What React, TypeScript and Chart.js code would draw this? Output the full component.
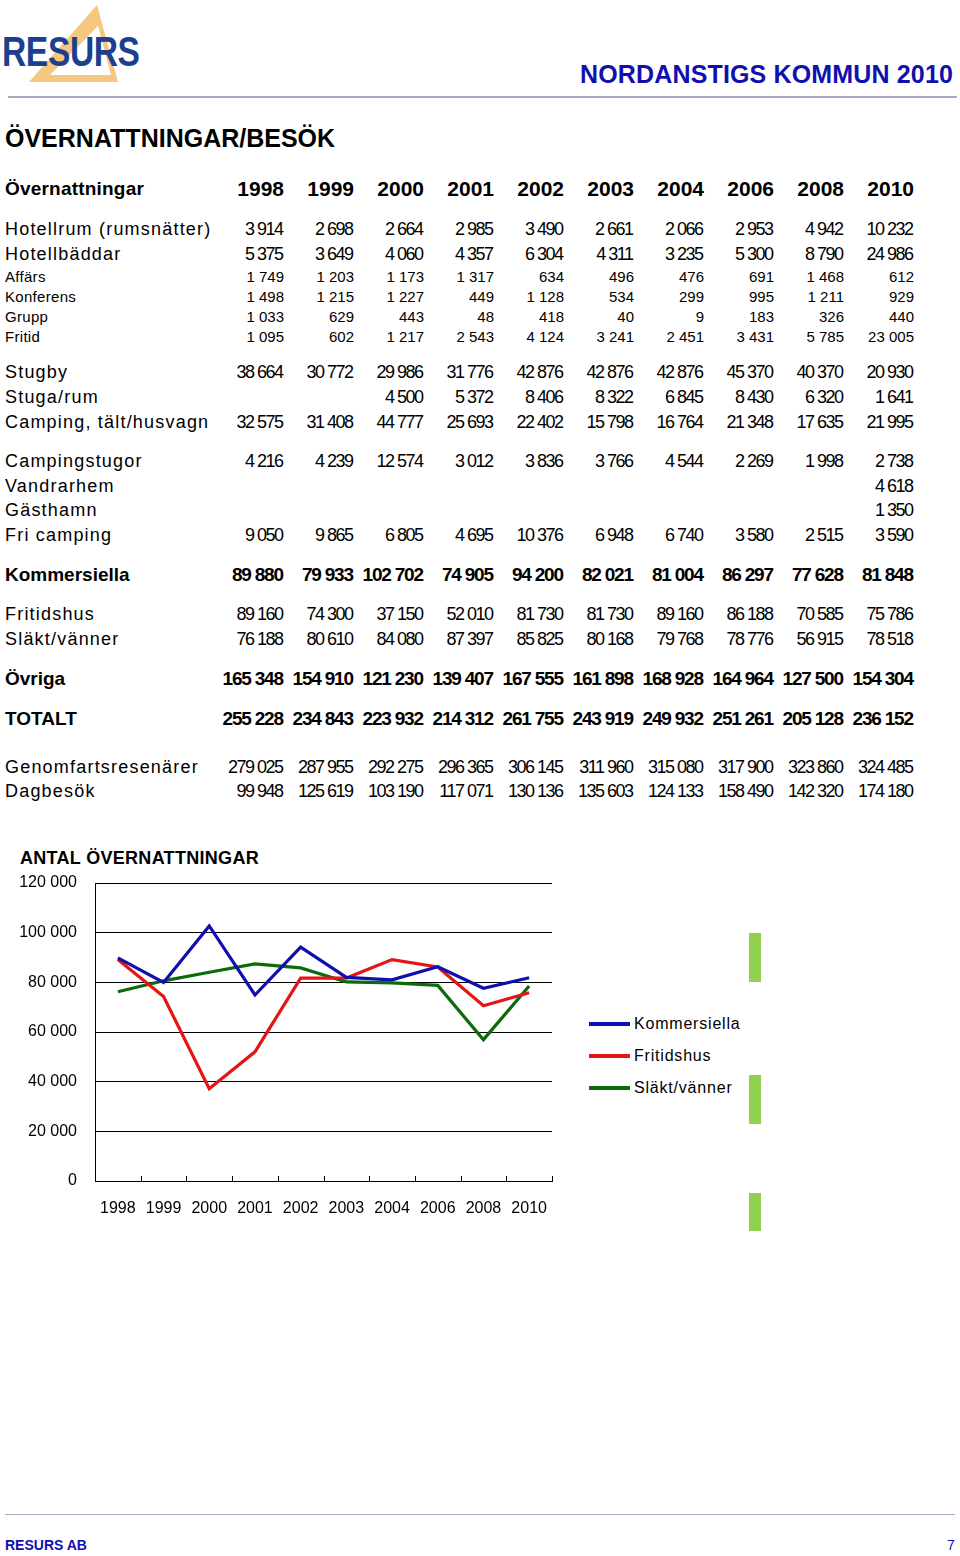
import React, { useEffect, useRef } from "react";
import { Chart, registerables } from "chart.js";

Chart.register(...registerables);

// ---------- DATA ----------
const years = ["1998", "1999", "2000", "2001", "2002", "2003", "2004", "2006", "2008", "2010"];

const hotellrum = [3914, 2698, 2664, 2985, 3490, 2661, 2066, 2953, 4942, 10232];
const hotellbaddar = [5375, 3649, 4060, 4357, 6304, 4311, 3235, 5300, 8790, 24986];
const affars = [1749, 1203, 1173, 1317, 634, 496, 476, 691, 1468, 612];
const konferens = [1498, 1215, 1227, 449, 1128, 534, 299, 995, 1211, 929];
const grupp = [1033, 629, 443, 48, 418, 40, 9, 183, 326, 440];
const fritid = [1095, 602, 1217, 2543, 4124, 3241, 2451, 3431, 5785, 23005];
const stugby = [38664, 30772, 29986, 31776, 42876, 42876, 42876, 45370, 40370, 20930];
const stugaRum = [null, null, 4500, 5372, 8406, 8322, 6845, 8430, 6320, 1641];
const campingTalt = [32575, 31408, 44777, 25693, 22402, 15798, 16764, 21348, 17635, 21995];
const campingstugor = [4216, 4239, 12574, 3012, 3836, 3766, 4544, 2269, 1998, 2738];
const vandrarhem = [null, null, null, null, null, null, null, null, null, 4618];
const gasthamn = [null, null, null, null, null, null, null, null, null, 1350];
const friCamping = [9050, 9865, 6805, 4695, 10376, 6948, 6740, 3580, 2515, 3590];
const kommersiella = [89880, 79933, 102702, 74905, 94200, 82021, 81004, 86297, 77628, 81848];
const fritidshus = [89160, 74300, 37150, 52010, 81730, 81730, 89160, 86188, 70585, 75786];
const slaktVanner = [76188, 80610, 84080, 87397, 85825, 80168, 79768, 78776, 56915, 78518];
const ovriga = [165348, 154910, 121230, 139407, 167555, 161898, 168928, 164964, 127500, 154304];
const totalt = [255228, 234843, 223932, 214312, 261755, 243919, 249932, 251261, 205128, 236152];
const genomfart = [279025, 287955, 292275, 296365, 306145, 311960, 315080, 317900, 323860, 324485];
const dagbesok = [99948, 125619, 103190, 117071, 130136, 135603, 124133, 158490, 142320, 174180];

const seriesLabels = ["Kommersiella", "Fritidshus", "Släkt/vänner"];
const yMin = 0;
const yMax = 120000;
const yStep = 20000;

// ---------- STYLE ----------
const FONT = "'Liberation Sans', Arial, Helvetica, sans-serif";
const BLUE = "#0f0fb0";
const RED = "#e41515";
const GREEN = "#0b6b0b";

type Kind = "header" | "big" | "small" | "bold";
const KIND_STYLE: Record<Kind, { label: any; num: any }> = {
  header: { label: { fontSize: 19, fontWeight: 700, letterSpacing: 0.2 }, num: { fontSize: 21, fontWeight: 700, letterSpacing: 0 } },
  big: { label: { fontSize: 18, fontWeight: 400, letterSpacing: 1.2 }, num: { fontSize: 18, fontWeight: 400, letterSpacing: -1.5 } },
  small: { label: { fontSize: 15, fontWeight: 400, letterSpacing: 0.3 }, num: { fontSize: 15, fontWeight: 400, letterSpacing: 0 } },
  bold: { label: { fontSize: 19, fontWeight: 700, letterSpacing: 0 }, num: { fontSize: 19, fontWeight: 700, letterSpacing: -1.2 } },
};

const tableRows: { label: string; values: (number | string | null)[]; y: number; kind: Kind }[] = [
  { label: "Övernattningar", values: years, y: 188, kind: "header" },
  { label: "Hotellrum (rumsnätter)", values: hotellrum, y: 229, kind: "big" },
  { label: "Hotellbäddar", values: hotellbaddar, y: 254, kind: "big" },
  { label: "Affärs", values: affars, y: 276, kind: "small" },
  { label: "Konferens", values: konferens, y: 296, kind: "small" },
  { label: "Grupp", values: grupp, y: 316, kind: "small" },
  { label: "Fritid", values: fritid, y: 336, kind: "small" },
  { label: "Stugby", values: stugby, y: 372, kind: "big" },
  { label: "Stuga/rum", values: stugaRum, y: 397, kind: "big" },
  { label: "Camping, tält/husvagn", values: campingTalt, y: 422, kind: "big" },
  { label: "Campingstugor", values: campingstugor, y: 461, kind: "big" },
  { label: "Vandrarhem", values: vandrarhem, y: 486, kind: "big" },
  { label: "Gästhamn", values: gasthamn, y: 510, kind: "big" },
  { label: "Fri camping", values: friCamping, y: 535, kind: "big" },
  { label: "Kommersiella", values: kommersiella, y: 574, kind: "bold" },
  { label: "Fritidshus", values: fritidshus, y: 614, kind: "big" },
  { label: "Släkt/vänner", values: slaktVanner, y: 639, kind: "big" },
  { label: "Övriga", values: ovriga, y: 678, kind: "bold" },
  { label: "TOTALT", values: totalt, y: 718, kind: "bold" },
  { label: "Genomfartsresenärer", values: genomfart, y: 767, kind: "big" },
  { label: "Dagbesök", values: dagbesok, y: 791, kind: "big" },
];

function fmt(v: number | string | null): string {
  if (v === null || v === undefined) return "";
  if (typeof v === "string") return v;
  return String(v).replace(/\B(?=(\d{3})+(?!\d))/g, " ");
}

const abs = (s: any): any => ({ position: "absolute", whiteSpace: "nowrap", fontFamily: FONT, color: "#000", ...s });

function TableRow({ row }: { row: (typeof tableRows)[number] }) {
  const st = KIND_STYLE[row.kind];
  return (
    <>
      <div style={abs({ left: 5, top: row.y - st.label.fontSize / 2, lineHeight: st.label.fontSize + "px", ...st.label })}>{row.label}</div>
      {row.values.map((v, i) => {
        const right = 284 + 70 * i;
        const ls = st.num.letterSpacing;
        return (
          <div
            key={i}
            style={abs({
              left: right - 100 + ls,
              width: 100,
              textAlign: "right",
              top: row.y - st.num.fontSize / 2,
              lineHeight: st.num.fontSize + "px",
              ...st.num,
            })}
          >
            {fmt(v)}
          </div>
        );
      })}
    </>
  );
}

const innerTicks = {
  id: "innerTicks",
  afterDraw(chart: any) {
    const x = chart.scales.x;
    const ctx = chart.ctx;
    const bottom = chart.chartArea.bottom;
    ctx.save();
    ctx.strokeStyle = "#000";
    ctx.lineWidth = 1;
    ctx.beginPath();
    for (let i = 0; i <= years.length; i++) {
      const px = Math.round(x.getPixelForValue(i - 0.5)) + 0.5;
      ctx.moveTo(px, bottom);
      ctx.lineTo(px, bottom - 5);
    }
    ctx.stroke();
    ctx.restore();
  },
};

function LineChart() {
  const ref = useRef<HTMLCanvasElement | null>(null);
  useEffect(() => {
    if (!ref.current) return;
    const chart = new Chart(ref.current, {
      type: "line",
      data: {
        labels: years,
        datasets: [
          { label: seriesLabels[0], data: kommersiella, borderColor: BLUE, backgroundColor: BLUE, borderWidth: 3.2, pointRadius: 0, tension: 0 },
          { label: seriesLabels[1], data: fritidshus, borderColor: RED, backgroundColor: RED, borderWidth: 3.2, pointRadius: 0, tension: 0 },
          { label: seriesLabels[2], data: slaktVanner, borderColor: GREEN, backgroundColor: GREEN, borderWidth: 3.2, pointRadius: 0, tension: 0 },
        ],
      },
      options: {
        animation: false,
        responsive: false,
        events: [],
        layout: { padding: { top: 13, right: 8, left: 0, bottom: 0 } },
        plugins: { legend: { display: false }, tooltip: { enabled: false }, title: { display: false } },
        scales: {
          x: {
            type: "category",
            offset: true,
            grid: { display: true, drawOnChartArea: false, drawTicks: true, tickLength: 15, tickColor: "rgba(0,0,0,0)", offset: true },
            border: { display: true, color: "#000", width: 1 },
            ticks: { color: "#000", font: { family: FONT, size: 16 }, padding: 3, maxRotation: 0, autoSkip: false },
            afterFit: (s: any) => {
              s.height = 49;
            },
          },
          y: {
            min: yMin,
            max: yMax,
            grid: { color: "#000", lineWidth: 1, drawTicks: true, tickLength: 15, tickColor: "rgba(0,0,0,0)" },
            border: { display: true, color: "#000", width: 1 },
            ticks: {
              stepSize: yStep,
              color: "#000",
              font: { family: FONT, size: 16 },
              padding: 3,
              callback: (v: any) => fmt(Number(v)),
            },
            afterFit: (s: any) => {
              s.width = 95;
            },
          },
        },
      },
      plugins: [innerTicks],
    } as any);
    return () => chart.destroy();
  }, []);
  return <canvas ref={ref} width={560} height={360} style={{ display: "block", width: 560, height: 360 }} />;
}

function Legend() {
  const colors = [BLUE, RED, GREEN];
  return (
    <>
      {seriesLabels.map((l, i) => (
        <React.Fragment key={l}>
          <div style={{ position: "absolute", left: 589, top: 1024 + 32 * i - 2, width: 41, height: 4, background: colors[i] }} />
          <div style={abs({ left: 634, top: 1024 + 32 * i - 8, lineHeight: "16px", fontSize: 16, letterSpacing: 0.8 })}>{l}</div>
        </React.Fragment>
      ))}
    </>
  );
}

export default function App() {
  return (
    <div style={{ position: "absolute", left: 0, top: 0, width: 960, height: 1556, background: "#fff", overflow: "hidden" }}>
      {/* Logo */}
      <svg width={140} height={90} style={{ position: "absolute", left: 0, top: 0 }}>
        <path d="M97 5 L118 82 L29 82 Z M98 26 L50 75 L111 75 Z" fill="#f6c87f" fillRule="evenodd" />
      </svg>
      <div
        style={abs({
          left: 2,
          top: 30,
          fontSize: 42,
          lineHeight: "44px",
          fontWeight: 700,
          color: "#1c3f8e",
          transform: "scaleX(0.8)",
          transformOrigin: "left center",
          letterSpacing: -0.5,
        })}
      >
        RESURS
      </div>
      <div style={abs({ right: 7, top: 61, fontSize: 25, lineHeight: "26px", fontWeight: 700, color: "#1010b0", letterSpacing: 0.15 })}>
        NORDANSTIGS KOMMUN 2010
      </div>
      <div style={{ position: "absolute", left: 8, top: 96, width: 949, height: 2, background: "#a9a9c6" }} />

      {/* Title */}
      <div style={abs({ left: 5, top: 125, fontSize: 25, lineHeight: "26px", fontWeight: 700, letterSpacing: 0 })}>ÖVERNATTNINGAR/BESÖK</div>

      {/* Table */}
      {tableRows.map((r) => (
        <TableRow key={r.label} row={r} />
      ))}

      {/* Chart */}
      <div style={abs({ left: 20, top: 848, fontSize: 18, lineHeight: "20px", fontWeight: 700, letterSpacing: 0.3 })}>ANTAL ÖVERNATTNINGAR</div>
      <div style={{ position: "absolute", left: 0, top: 870, width: 560, height: 360 }}>
        <LineChart />
      </div>
      <Legend />

      {/* decorative green markers */}
      <div style={{ position: "absolute", left: 749, top: 933, width: 12, height: 49, background: "#92d050" }} />
      <div style={{ position: "absolute", left: 749, top: 1075, width: 12, height: 49, background: "#92d050" }} />
      <div style={{ position: "absolute", left: 749, top: 1193, width: 12, height: 38, background: "#92d050" }} />

      {/* Footer */}
      <div style={{ position: "absolute", left: 5, top: 1514, width: 950, height: 1, background: "#a9a9c6" }} />
      <div style={abs({ left: 5, top: 1538, fontSize: 14, lineHeight: "15px", fontWeight: 700, color: "#1010b0" })}>RESURS AB</div>
      <div style={abs({ left: 947, top: 1538, fontSize: 14, lineHeight: "15px", color: "#1010b0" })}>7</div>
    </div>
  );
}
